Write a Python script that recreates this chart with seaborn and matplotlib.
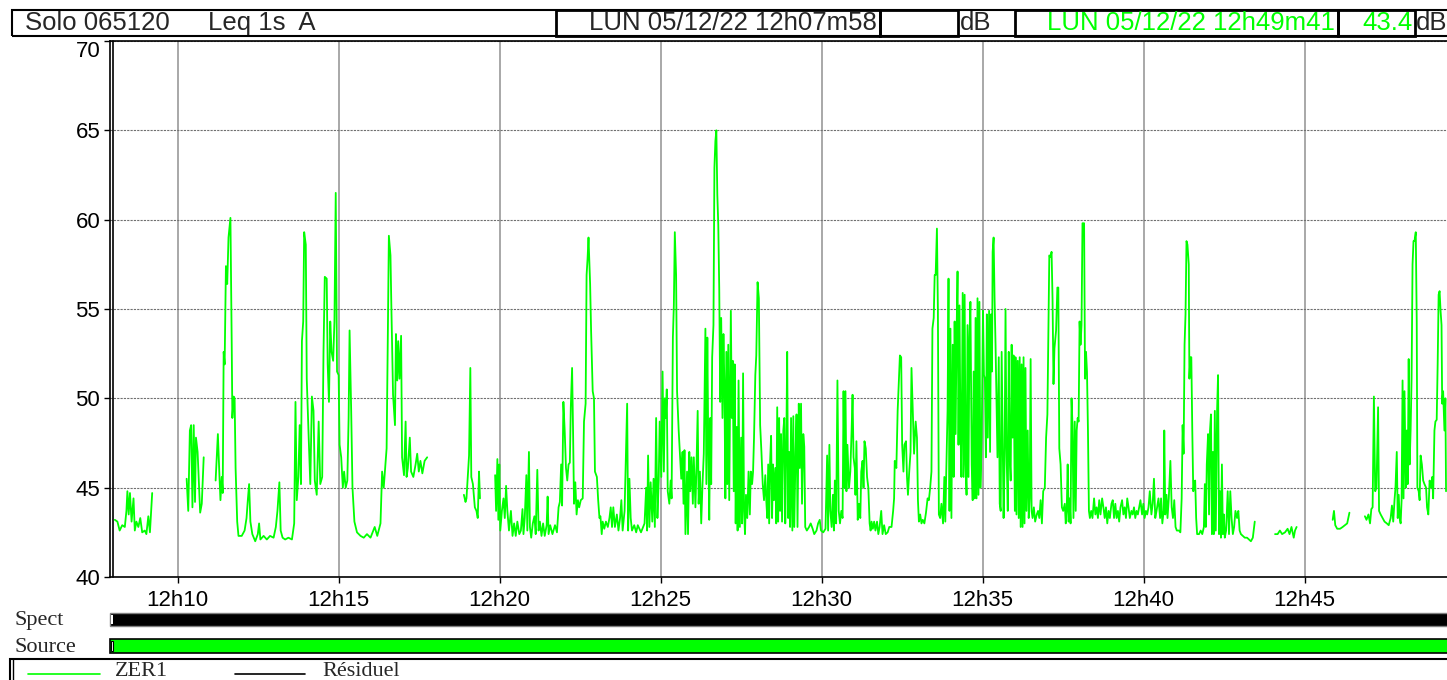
import pandas as pd
import matplotlib
matplotlib.use("Agg")
import matplotlib.pyplot as plt
import seaborn as sns
from matplotlib.patches import Rectangle
from matplotlib.lines import Line2D

# Leq 1s A readings: (minutes after 12h00, dB). Each list is one unbroken stretch.
run_a = [(8.05, 43.2), (8.13, 43.1), (8.20, 42.6), (8.28, 42.9), (8.36, 42.8), (8.41, 43.7),
         (8.44, 44.8), (8.48, 43.5), (8.52, 44.7), (8.57, 43.1), (8.63, 44.4), (8.67, 42.6),
         (8.72, 43.1), (8.78, 42.8), (8.84, 43.3), (8.90, 42.5), (8.98, 42.6), (9.03, 42.4),
         (9.09, 43.4), (9.14, 42.5), (9.21, 44.7)]

run_b = [(10.28, 45.5), (10.33, 43.7), (10.38, 48.2), (10.42, 48.5), (10.46, 43.9), (10.50, 48.5),
         (10.54, 44.2), (10.57, 47.8), (10.62, 47.0), (10.70, 43.6), (10.75, 44.1), (10.81, 46.7)]

run_c = [(11.18, 45.4), (11.25, 48.0), (11.30, 45.6), (11.33, 44.3), (11.37, 45.6), (11.40, 44.7),
         (11.43, 52.6), (11.46, 51.9), (11.50, 57.4), (11.54, 56.4), (11.58, 59.0), (11.64, 60.1),
         (11.68, 53.0), (11.70, 48.9), (11.74, 50.1), (11.77, 50.0), (11.80, 46.1), (11.85, 43.1),
         (11.89, 42.3), (11.99, 42.3), (12.08, 42.6), (12.14, 43.3), (12.18, 44.3), (12.22, 45.2),
         (12.26, 43.1), (12.32, 42.4), (12.41, 42.0), (12.49, 42.4), (12.53, 43.0), (12.57, 42.1),
         (12.67, 42.3), (12.77, 42.1), (12.87, 42.3), (12.98, 42.2), (13.05, 42.8), (13.10, 43.7),
         (13.16, 45.3), (13.20, 42.6), (13.26, 42.2), (13.34, 42.1), (13.44, 42.2), (13.55, 42.1),
         (13.62, 43.0), (13.66, 49.8), (13.70, 44.3), (13.75, 45.6), (13.79, 48.5), (13.83, 45.2),
         (13.86, 53.2), (13.90, 54.3), (13.93, 59.3), (13.98, 58.6), (14.01, 51.1), (14.07, 47.8),
         (14.12, 45.2), (14.17, 50.1), (14.22, 49.3), (14.26, 45.4), (14.32, 44.6), (14.38, 48.7),
         (14.43, 45.2), (14.49, 45.6), (14.53, 52.6), (14.57, 56.8), (14.63, 56.7), (14.66, 51.9),
         (14.70, 49.8), (14.74, 54.3), (14.78, 52.6), (14.83, 52.1), (14.87, 54.3), (14.91, 61.5),
         (14.95, 51.5), (15.00, 51.3), (15.03, 47.4), (15.08, 46.7), (15.13, 45.0), (15.17, 45.9),
         (15.22, 45.0), (15.27, 45.4), (15.31, 48.9), (15.34, 53.8), (15.39, 49.3), (15.43, 45.0),
         (15.49, 43.1), (15.57, 42.5), (15.68, 42.3), (15.78, 42.2), (15.88, 42.4), (15.99, 42.2),
         (16.12, 42.8), (16.20, 42.3), (16.30, 43.0), (16.35, 45.9), (16.40, 45.0), (16.49, 47.2),
         (16.53, 53.9), (16.56, 59.1), (16.61, 58.0), (16.64, 54.9), (16.69, 50.2), (16.75, 48.5),
         (16.78, 53.6), (16.82, 51.0), (16.85, 53.2), (16.89, 51.1), (16.94, 53.5), (16.97, 46.7),
         (17.03, 45.7), (17.08, 48.7), (17.11, 45.6), (17.15, 46.1), (17.21, 47.8), (17.25, 45.9),
         (17.32, 45.6), (17.39, 46.3), (17.44, 46.9), (17.49, 45.9), (17.54, 46.5), (17.60, 45.8),
         (17.67, 46.5), (17.75, 46.7)]

run_d = [(18.89, 44.6), (18.94, 44.2), (18.97, 44.4), (19.05, 46.8), (19.09, 51.7), (19.12, 45.6),
         (19.17, 45.2), (19.23, 43.9), (19.28, 43.7), (19.32, 43.3), (19.36, 45.9), (19.39, 44.4)]

run_e = [(19.86, 45.7), (19.89, 43.7), (19.93, 46.6), (19.96, 43.2), (19.99, 46.3), (20.02, 42.6),
         (20.07, 43.7), (20.12, 44.4), (20.16, 43.3), (20.20, 45.1), (20.24, 43.7), (20.29, 42.6),
         (20.35, 43.7), (20.40, 42.3), (20.45, 43.0), (20.50, 42.3), (20.55, 43.1), (20.61, 42.4),
         (20.66, 42.6), (20.71, 43.8), (20.74, 42.4), (20.78, 43.3), (20.83, 45.7), (20.86, 42.6),
         (20.91, 47.0), (20.94, 42.8), (20.98, 42.2), (21.03, 43.0), (21.08, 43.4), (21.12, 42.4),
         (21.17, 46.0), (21.21, 42.6), (21.25, 43.1), (21.30, 42.3), (21.35, 43.0), (21.40, 42.3),
         (21.46, 42.9), (21.49, 44.5), (21.52, 42.4), (21.57, 42.9), (21.64, 42.4), (21.72, 42.9),
         (21.78, 42.5), (21.83, 43.9), (21.87, 44.2), (21.91, 46.3), (21.94, 44.0), (21.98, 49.8),
         (22.02, 48.2), (22.06, 46.1), (22.10, 45.4), (22.14, 46.3), (22.18, 46.4), (22.21, 49.5),
         (22.25, 51.7), (22.28, 48.2), (22.31, 44.1), (22.35, 45.3), (22.39, 43.5), (22.43, 44.3),
         (22.47, 43.9), (22.52, 44.3), (22.58, 44.4), (22.62, 48.7), (22.67, 49.7), (22.70, 56.9),
         (22.73, 57.8), (22.76, 59.0), (22.81, 56.4), (22.84, 53.8), (22.89, 50.4), (22.93, 50.0),
         (22.96, 45.9), (23.02, 45.6), (23.06, 44.3), (23.10, 43.3), (23.13, 43.4), (23.17, 42.4),
         (23.20, 43.1), (23.25, 42.7), (23.30, 43.1), (23.36, 42.8), (23.41, 43.3), (23.45, 43.9),
         (23.49, 42.8), (23.53, 43.9), (23.58, 42.8), (23.64, 43.5), (23.69, 42.6), (23.74, 43.3),
         (23.78, 44.3), (23.82, 42.6), (23.88, 43.7), (23.93, 47.4), (23.96, 49.7), (23.99, 42.6),
         (24.03, 45.5), (24.07, 43.3), (24.11, 42.6), (24.18, 42.9), (24.24, 42.5),
         # 12h24 - 12h30
         (24.29, 42.9), (24.39, 42.5), (24.50, 43.0), (24.55, 45.0), (24.58, 42.6), (24.61, 46.8),
         (24.65, 42.8), (24.69, 45.3), (24.74, 43.1), (24.78, 45.5), (24.82, 42.8), (24.86, 48.9),
         (24.90, 43.3), (24.94, 45.4), (24.97, 48.7), (25.02, 45.6), (25.06, 51.5), (25.10, 45.9),
         (25.13, 50.0), (25.16, 48.9), (25.19, 50.5), (25.22, 44.8), (25.27, 44.1), (25.31, 45.4),
         (25.34, 44.4), (25.38, 53.4), (25.41, 55.2), (25.44, 59.3), (25.48, 56.9), (25.51, 50.4),
         (25.56, 48.2), (25.60, 46.9), (25.64, 45.5), (25.68, 47.0), (25.71, 44.1), (25.74, 47.1),
         (25.77, 42.4), (25.82, 45.9), (25.85, 42.4), (25.89, 47.0), (25.92, 44.8), (25.96, 46.7),
         (26.00, 44.1), (26.03, 46.7), (26.08, 43.9), (26.11, 45.9), (26.15, 49.3), (26.18, 44.1),
         (26.22, 45.9), (26.26, 43.0), (26.30, 45.2), (26.34, 46.9), (26.39, 53.9), (26.42, 45.2),
         (26.45, 53.4), (26.48, 47.2), (26.51, 43.2), (26.54, 48.9), (26.57, 45.2), (26.60, 52.3),
         (26.64, 54.1), (26.67, 62.9), (26.70, 64.4), (26.73, 65.0), (26.76, 61.4), (26.79, 59.7),
         (26.82, 56.1), (26.85, 49.8), (26.88, 54.5), (26.92, 48.9), (26.95, 53.6), (26.98, 50.8),
         (27.01, 44.4), (27.04, 52.6), (27.07, 45.2), (27.10, 53.0), (27.13, 44.3), (27.18, 54.9),
         (27.21, 48.9), (27.24, 52.1), (27.27, 44.8), (27.30, 51.9), (27.33, 43.0), (27.36, 48.4),
         (27.39, 42.6), (27.42, 51.0), (27.46, 42.8), (27.50, 47.8), (27.53, 43.0), (27.56, 51.4),
         (27.59, 43.7), (27.62, 42.4), (27.65, 44.6), (27.69, 43.3), (27.73, 45.9), (27.77, 43.5),
         (27.80, 45.9), (27.84, 45.2), (27.87, 45.9), (27.90, 47.8), (27.94, 51.3), (27.97, 52.4),
         (28.01, 56.5), (28.05, 55.6), (28.09, 48.5), (28.13, 47.0), (28.17, 45.2), (28.21, 44.3),
         (28.25, 45.7), (28.28, 44.3), (28.31, 43.3), (28.34, 46.3), (28.37, 43.0), (28.40, 46.5),
         (28.43, 47.9), (28.46, 43.3), (28.49, 46.3), (28.52, 44.3), (28.56, 46.1), (28.59, 43.0),
         (28.62, 49.5), (28.65, 43.1), (28.68, 48.9), (28.71, 43.7), (28.74, 48.0), (28.77, 43.1),
         (28.81, 48.2), (28.84, 48.9), (28.87, 43.0), (28.90, 47.0), (28.93, 52.6), (28.96, 43.3),
         (28.99, 47.0), (29.02, 42.8), (29.05, 48.9), (29.09, 42.6), (29.12, 49.0), (29.15, 42.8),
         (29.19, 47.0), (29.22, 49.1), (29.25, 42.8), (29.29, 49.7), (29.32, 46.1), (29.36, 49.7),
         (29.39, 44.1), (29.43, 48.0), (29.46, 47.3), (29.49, 42.8), (29.54, 42.6), (29.61, 42.8),
         (29.66, 43.0),
         # 12h30 - 12h35
         (29.72, 42.7), (29.77, 42.4), (29.84, 42.6), (29.89, 43.0), (29.94, 43.2), (29.98, 42.6),
         (30.05, 42.5), (30.12, 42.7), (30.17, 46.8), (30.20, 42.6), (30.24, 47.4), (30.27, 43.7),
         (30.31, 42.8), (30.35, 44.6), (30.38, 42.6), (30.41, 45.4), (30.45, 43.0), (30.49, 51.0),
         (30.53, 43.7), (30.57, 43.0), (30.61, 43.7), (30.65, 43.3), (30.68, 50.4), (30.71, 45.0),
         (30.74, 50.4), (30.77, 44.8), (30.80, 47.4), (30.85, 45.0), (30.89, 45.9), (30.93, 48.2),
         (30.96, 50.2), (30.99, 46.7), (31.03, 46.1), (31.05, 44.6), (31.08, 47.6), (31.12, 43.2),
         (31.16, 44.1), (31.20, 43.3), (31.23, 45.9), (31.27, 46.5), (31.30, 45.0), (31.33, 47.6),
         (31.37, 47.2), (31.41, 45.6), (31.45, 45.0), (31.49, 43.0), (31.52, 42.6), (31.55, 43.1),
         (31.59, 42.7), (31.63, 43.1), (31.67, 42.6), (31.72, 43.1), (31.76, 42.4), (31.80, 42.8),
         (31.85, 43.7), (31.89, 42.4), (31.94, 42.9), (31.99, 42.4), (32.05, 42.5), (32.10, 42.8),
         (32.17, 42.8), (32.22, 43.7), (32.25, 44.4), (32.27, 46.5), (32.32, 46.1), (32.36, 49.3),
         (32.40, 51.1), (32.43, 52.4), (32.47, 52.3), (32.50, 47.4), (32.54, 45.9), (32.57, 47.4),
         (32.62, 47.6), (32.65, 45.6), (32.68, 44.6), (32.72, 45.9), (32.76, 47.0), (32.79, 51.7),
         (32.83, 49.3), (32.87, 46.9), (32.92, 48.7), (32.96, 47.8), (32.99, 44.3), (33.02, 43.1),
         (33.06, 43.5), (33.10, 43.0), (33.14, 43.2), (33.19, 43.0), (33.24, 43.6), (33.29, 44.4),
         (33.33, 44.3), (33.37, 45.0), (33.41, 45.9), (33.44, 53.9), (33.48, 54.5), (33.51, 56.9),
         (33.54, 56.9), (33.58, 59.5), (33.61, 54.9), (33.64, 43.5), (33.68, 43.3), (33.72, 44.1),
         (33.77, 43.0), (33.81, 45.6), (33.84, 43.1), (33.87, 45.9), (33.91, 49.3), (33.94, 56.7),
         (33.97, 43.7), (34.00, 53.9), (34.03, 43.3), (34.07, 53.0), (34.10, 45.6), (34.13, 54.3),
         (34.16, 48.0), (34.19, 53.6), (34.22, 57.1), (34.25, 47.4), (34.28, 55.2), (34.31, 48.4),
         (34.34, 45.6), (34.38, 55.9), (34.41, 45.6), (34.44, 55.8), (34.47, 46.3), (34.50, 44.6),
         (34.53, 54.1), (34.56, 45.6), (34.59, 53.4), (34.62, 55.4), (34.66, 46.3), (34.69, 44.3),
         (34.72, 51.5), (34.75, 44.4), (34.78, 54.5), (34.81, 44.4), (34.84, 55.6), (34.87, 44.6),
         (34.90, 55.4), (34.93, 45.0), (34.97, 47.8), (35.01, 54.9), (35.04, 51.3), (35.07, 51.1),
         # 12h35 - 12h40
         (35.10, 46.7), (35.13, 54.7), (35.16, 47.8), (35.20, 54.9), (35.23, 47.0), (35.26, 54.7),
         (35.29, 51.5), (35.31, 58.2), (35.34, 59.0), (35.37, 55.6), (35.40, 53.0), (35.43, 50.0),
         (35.46, 46.7), (35.50, 52.3), (35.53, 44.1), (35.56, 43.7), (35.59, 52.6), (35.62, 48.2),
         (35.65, 43.3), (35.68, 46.3), (35.71, 55.0), (35.74, 47.2), (35.78, 43.7), (35.81, 52.6),
         (35.84, 46.7), (35.87, 45.4), (35.90, 53.0), (35.93, 47.8), (35.96, 52.4), (36.00, 43.7),
         (36.02, 52.3), (36.05, 43.5), (36.09, 52.1), (36.12, 43.3), (36.15, 52.3), (36.18, 42.8),
         (36.21, 51.9), (36.24, 42.8), (36.27, 52.3), (36.30, 43.0), (36.33, 51.7), (36.36, 43.7),
         (36.40, 48.2), (36.43, 43.3), (36.46, 44.4), (36.49, 52.2), (36.52, 43.7), (36.55, 43.3),
         (36.59, 43.9), (36.63, 43.1), (36.68, 43.5), (36.72, 43.7), (36.76, 43.3), (36.80, 44.3),
         (36.84, 43.0), (36.88, 44.8), (36.93, 45.0), (36.97, 47.8), (37.01, 49.1), (37.04, 53.8),
         (37.07, 58.0), (37.11, 57.9), (37.14, 58.2), (37.17, 55.6), (37.20, 50.8), (37.23, 52.8),
         (37.28, 53.8), (37.32, 56.2), (37.35, 56.2), (37.38, 47.2), (37.42, 46.3), (37.46, 43.9),
         (37.50, 43.7), (37.55, 44.1), (37.58, 43.0), (37.61, 43.7), (37.64, 46.3), (37.67, 43.1),
         (37.70, 44.4), (37.73, 43.0), (37.76, 50.0), (37.79, 48.5), (37.82, 43.3), (37.86, 48.7),
         (37.89, 43.7), (37.92, 48.2), (37.95, 48.9), (37.98, 48.7), (38.01, 54.3), (38.04, 53.0),
         (38.07, 54.1), (38.10, 59.8), (38.15, 59.8), (38.18, 51.1), (38.21, 52.6), (38.24, 51.5),
         (38.27, 48.2), (38.30, 43.7), (38.33, 43.3), (38.37, 43.7), (38.41, 43.3), (38.46, 44.4),
         (38.50, 43.5), (38.54, 43.9), (38.58, 43.3), (38.62, 44.3), (38.66, 43.5), (38.71, 44.4),
         (38.75, 43.9), (38.79, 43.3), (38.83, 43.9), (38.87, 43.0), (38.91, 43.7), (38.95, 43.3),
         (39.00, 44.1), (39.04, 44.3), (39.08, 43.3), (39.12, 44.1), (39.16, 43.3), (39.20, 43.7),
         (39.24, 43.1), (39.28, 43.9), (39.33, 44.3), (39.37, 43.5), (39.41, 43.9), (39.45, 43.3),
         (39.49, 44.4), (39.53, 43.9), (39.57, 43.3), (39.62, 43.7), (39.66, 43.5), (39.70, 43.9),
         (39.74, 43.3), (39.78, 43.7), (39.82, 43.5), (39.86, 43.9), (39.90, 44.3), (39.95, 43.5),
         (39.99, 44.1), (40.03, 43.3), (40.07, 43.7), (40.11, 43.5), (40.15, 43.9), (40.19, 44.8),
         (40.24, 43.5), (40.28, 44.1), (40.32, 45.5), (40.36, 43.3), (40.40, 43.7), (40.46, 44.4),
         # 12h40 - 12h43
         (40.51, 43.3), (40.54, 44.4), (40.58, 43.0), (40.62, 43.7), (40.64, 48.2), (40.67, 43.5),
         (40.71, 44.6), (40.74, 43.3), (40.78, 44.4), (40.83, 46.5), (40.87, 43.9), (40.91, 43.3),
         (40.95, 44.3), (40.99, 42.8), (41.03, 42.6), (41.10, 42.6), (41.14, 42.5), (41.18, 44.4),
         (41.21, 48.5), (41.24, 46.9), (41.27, 53.0), (41.30, 54.7), (41.33, 58.8), (41.36, 58.6),
         (41.40, 57.5), (41.42, 51.1), (41.45, 52.3), (41.48, 52.3), (41.51, 48.2), (41.54, 44.8),
         (41.57, 45.2), (41.60, 45.4), (41.63, 43.3), (41.66, 42.4), (41.72, 42.4), (41.77, 42.6),
         (41.82, 42.4), (41.87, 42.8), (41.90, 45.2), (41.93, 42.8), (41.96, 46.3), (42.00, 48.0),
         (42.03, 43.5), (42.06, 48.2), (42.09, 49.1), (42.12, 42.4), (42.15, 47.0), (42.18, 42.4),
         (42.21, 49.3), (42.24, 42.6), (42.28, 49.3), (42.31, 51.3), (42.34, 42.4), (42.37, 44.8),
         (42.40, 42.2), (42.43, 46.3), (42.46, 42.4), (42.49, 43.5), (42.52, 42.2), (42.56, 42.6),
         (42.61, 44.8), (42.65, 42.4), (42.69, 44.8), (42.73, 43.3), (42.77, 42.4), (42.81, 42.8),
         (42.85, 43.7), (42.90, 43.3), (42.94, 43.7), (42.98, 42.6), (43.02, 42.4), (43.08, 42.3),
         (43.14, 42.2), (43.21, 42.2), (43.27, 42.1), (43.33, 42.0), (43.39, 42.2), (43.45, 43.1)]

run_f = [(44.08, 42.4), (44.16, 42.4), (44.23, 42.6), (44.30, 42.4), (44.39, 42.5), (44.47, 42.7),
         (44.53, 42.4), (44.59, 42.8), (44.66, 42.2), (44.70, 42.6), (44.75, 42.8)]

run_g = [(45.87, 43.2), (45.91, 43.7), (45.95, 42.9), (46.01, 42.7), (46.10, 42.7), (46.18, 42.8),
         (46.25, 42.9), (46.32, 43.0), (46.39, 43.6)]

run_h = [(46.87, 43.4), (46.92, 43.2), (46.98, 43.5), (47.03, 43.0), (47.07, 43.8), (47.11, 43.9),
         (47.15, 50.1), (47.19, 44.8), (47.23, 45.0), (47.28, 49.5), (47.31, 43.7), (47.36, 43.5),
         (47.42, 43.3), (47.48, 43.1), (47.55, 43.0), (47.61, 42.9), (47.67, 43.3), (47.71, 44.0),
         (47.75, 43.1), (47.79, 44.3), (47.82, 45.0), (47.86, 47.0), (47.89, 43.3), (47.92, 44.6),
         (47.95, 43.3), (47.98, 43.0), (48.01, 44.3), (48.04, 51.0), (48.07, 44.4), (48.10, 50.4),
         (48.14, 45.0), (48.17, 48.2), (48.20, 45.2), (48.23, 52.2), (48.26, 46.3), (48.29, 48.2),
         (48.32, 51.1), (48.35, 57.5), (48.38, 58.8), (48.41, 58.8), (48.45, 59.3), (48.48, 54.3),
         (48.50, 45.0), (48.54, 44.8), (48.57, 44.3), (48.60, 46.8), (48.64, 46.3), (48.68, 45.4),
         (48.72, 45.2), (48.77, 45.0), (48.80, 43.9), (48.84, 43.5), (48.88, 45.4), (48.92, 45.0),
         (48.96, 45.6), (48.99, 44.4), (49.03, 48.2), (49.06, 48.7), (49.10, 48.8), (49.13, 51.9),
         (49.16, 55.8), (49.19, 56.0), (49.22, 54.9), (49.25, 54.1), (49.27, 49.7), (49.30, 50.4),
         (49.34, 48.2), (49.37, 50.0), (49.39, 44.8)]

runs = [run_a, run_b, run_c, run_d, run_e, run_f, run_g, run_h]

y_ticks = [40, 45, 50, 55, 60, 65, 70]
x_ticks = [10, 15, 20, 25, 30, 35, 40, 45]
x_labels = [f"12h{m}" for m in x_ticks]
x_span = (7.90, 49.42)

instrument = "Solo 065120"
metric = "Leq 1s  A"
start_stamp = "LUN 05/12/22 12h07m58"
cursor_stamp = "LUN 05/12/22 12h49m41"
cursor_value = "43.4"
unit = "dB"

GREEN = "#00ff00"
W, H = 1447, 680

frames = []
for i, run in enumerate(runs):
    d = pd.DataFrame(run, columns=["minute", "leq"])
    d["run"] = i
    frames.append(d)
df = pd.concat(frames, ignore_index=True)

sns.set_theme(style="white")
plt.rcParams["font.family"] = ["Liberation Sans", "DejaVu Sans"]
SERIF = ["Liberation Serif", "DejaVu Serif"]

fig = plt.figure(figsize=(W / 100, H / 100), dpi=100)


def fx(x):
    return x / W


def fy(y):
    return 1 - y / H


def box(x0, y0, x1, y1, **kw):
    r = Rectangle((fx(x0), fy(y1)), fx(x1) - fx(x0), fy(y0) - fy(y1),
                  transform=fig.transFigure, **kw)
    fig.add_artist(r)


def hline(x0, x1, y, **kw):
    fig.add_artist(Line2D([fx(x0), fx(x1)], [fy(y), fy(y)], transform=fig.transFigure, **kw))


# main trace
ax = fig.add_axes([fx(110), fy(577), fx(1447) - fx(110), fy(41) - fy(577)])
sns.lineplot(data=df, x="minute", y="leq", units="run", estimator=None, sort=False,
             color=GREEN, lw=1.3, ax=ax, legend=False)
ax.set_xlim(*x_span)
ax.set_ylim(40, 70)
ax.set_xticks(x_ticks)
ax.set_xticklabels(x_labels)
ax.set_yticks(y_ticks)
ax.set_xlabel("")
ax.set_ylabel("")
ax.xaxis.grid(True, color="#9a9a9a", lw=1.2, ls="-")
ax.yaxis.grid(True, color="#707070", lw=0.8, ls=(0, (2, 1)))
ax.set_axisbelow(True)
for side in ["top", "bottom", "left"]:
    ax.spines[side].set_color("black")
    ax.spines[side].set_linewidth(1.2)
ax.spines["right"].set_visible(False)
ax.plot([0.0025, 0.0025], [0, 1], transform=ax.transAxes, color="black", lw=1.2, clip_on=False)
ax.tick_params(axis="both", which="major", direction="out", length=4, width=1,
               color="black", labelsize=16, labelcolor="black")
ax.tick_params(axis="y", pad=3)
ax.tick_params(axis="x", pad=5)
ax.xaxis.set_ticks_position("bottom")
ax.yaxis.set_ticks_position("left")
# the top label sits just under the frame, as in the reference
ax.get_yticklabels()[-1].set_va("top")

# header bar
HFS = 18.5
box(12, 10, 1452, 36, fill=False, ec="black", lw=1.5)
box(556, 10, 880, 36, fill=False, ec="black", lw=2)
box(880, 10, 958, 36, fill=False, ec="black", lw=2)
box(1015, 10, 1338, 36, fill=False, ec="black", lw=2)
box(1338, 10, 1415, 36, fill=False, ec="black", lw=2)
fig.text(fx(25), fy(23), instrument, fontsize=HFS, va="center", ha="left")
fig.text(fx(208), fy(23), metric, fontsize=HFS, va="center", ha="left")
fig.text(fx(877), fy(23), start_stamp, fontsize=HFS, va="center", ha="right")
fig.text(fx(960), fy(23), unit, fontsize=HFS, va="center", ha="left")
fig.text(fx(1335), fy(23), cursor_stamp, fontsize=HFS, va="center", ha="right", color=GREEN)
fig.text(fx(1413), fy(23), cursor_value, fontsize=HFS, va="center", ha="right", color=GREEN)
fig.text(fx(1416), fy(23), unit, fontsize=HFS, va="center", ha="left")

# Spect / Source strips
box(110, 613, 1452, 626, fc="black", ec="#808080", lw=1)
box(111, 615, 113, 624, fc="white", ec="none")
box(110, 639, 1452, 653, fc=GREEN, ec="black", lw=1.2)
box(111, 641, 113, 651, fc="white", ec="black", lw=0.8)
fig.text(fx(14), fy(621), "Spect", family=SERIF, fontsize=16, va="center", ha="left")
fig.text(fx(14), fy(647), "Source", family=SERIF, fontsize=16, va="center", ha="left")

# legend row
box(10, 659, 1452, 690, fill=False, ec="black", lw=1.5)
fig.add_artist(Line2D([fx(13), fx(13)], [fy(659), fy(680)], transform=fig.transFigure, color="black", lw=1))
hline(28, 100, 674, color=GREEN, lw=1.2)
hline(235, 305, 674, color="black", lw=1.2)
fig.text(fx(115), fy(671), "ZER1", family=SERIF, fontsize=16, va="center", ha="left")
fig.text(fx(322), fy(671), "Résiduel", family=SERIF, fontsize=16, va="center", ha="left")

fig.savefig("out.png", dpi=100)
